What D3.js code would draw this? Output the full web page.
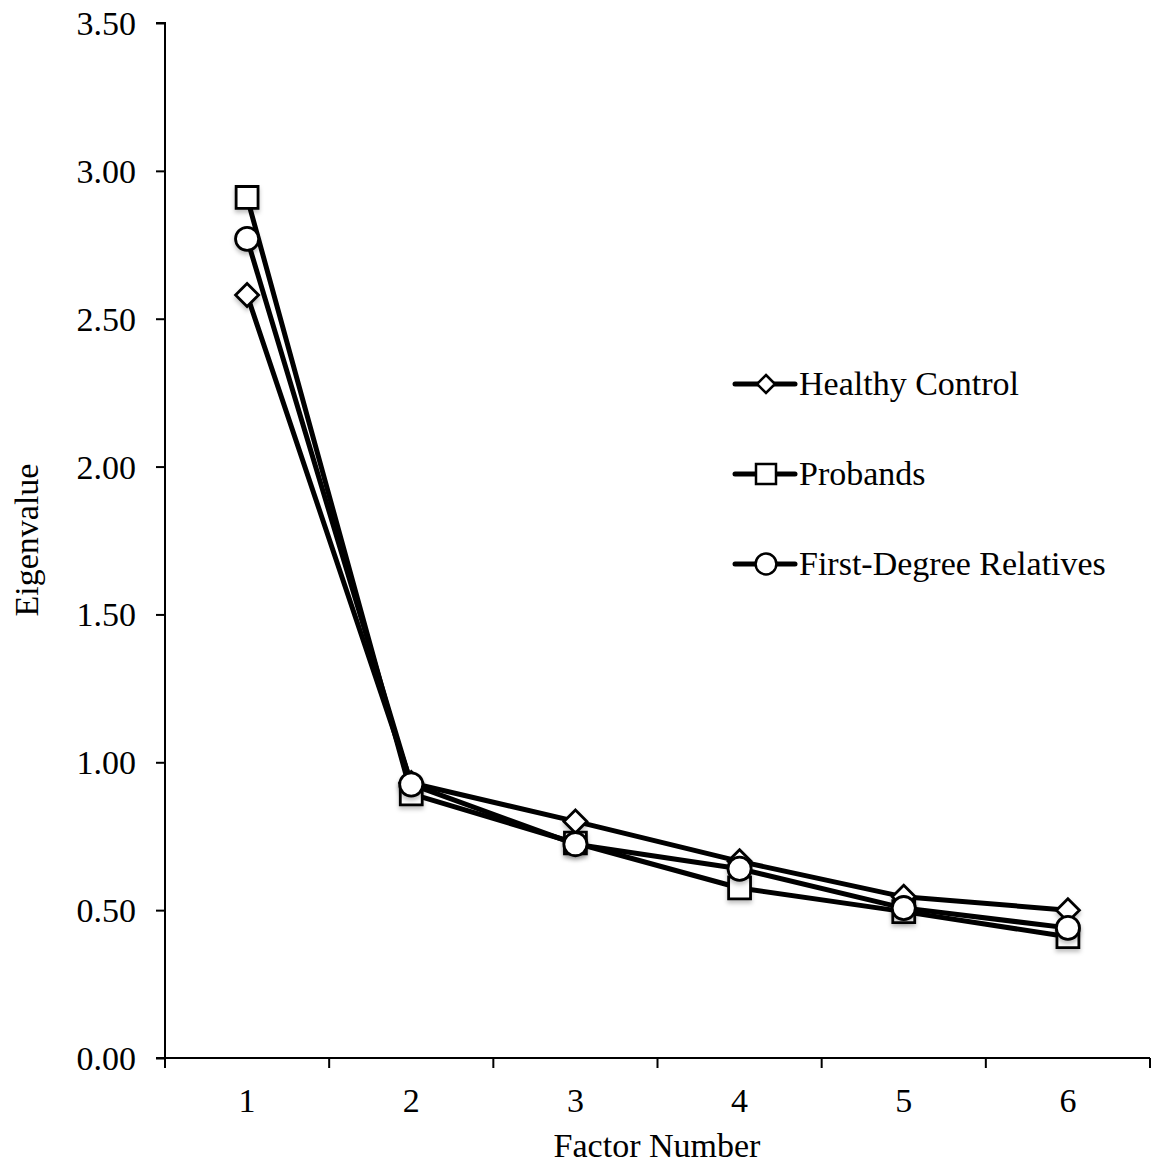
<!DOCTYPE html>
<html><head><meta charset="utf-8">
<script src="https://cdn.jsdelivr.net/npm/d3@7"></script>
<style>
body{margin:0;background:#fff;}
svg text{font-family:"Liberation Serif","Times New Roman",serif;fill:#000;}
</style></head>
<body><svg id="chart" width="1155" height="1164"></svg>
<script>
const factors = ["1","2","3","4","5","6"];
const healthyControl = [2.58, 0.93, 0.80, 0.665, 0.545, 0.50];
const probands = [2.91, 0.893, 0.727, 0.575, 0.495, 0.41];
const firstDegree = [2.77, 0.925, 0.723, 0.64, 0.507, 0.44];
const seriesNames = ["Healthy Control", "Probands", "First-Degree Relatives"];
const seriesSymbols = ["diamond", "square", "circle"];
const yTicks = [0, 0.5, 1, 1.5, 2, 2.5, 3, 3.5];

(function(){
const svg = d3.select("#chart");
const mLeft = 165, mRight = 1150, mTop = 23, mBottom = 1058;
const fs = "34px";

const defs = svg.append("defs");
const f = defs.append("filter").attr("id","sh").attr("x","-50%").attr("y","-50%").attr("width","200%").attr("height","200%");
f.append("feDropShadow").attr("dx",0).attr("dy",3).attr("stdDeviation",2).attr("flood-color","#000").attr("flood-opacity",0.25);

const y = d3.scaleLinear().domain([0, 3.5]).range([mBottom, mTop]);
const xb = d3.scaleBand().domain(factors).range([mLeft, mRight]);
const x = d => xb(d) + xb.bandwidth()/2;

// Y axis
const yAxis = d3.axisLeft(y).tickValues(yTicks).tickSize(9).tickPadding(20).tickFormat(d3.format(".2f"));
const gy = svg.append("g").attr("transform",`translate(${mLeft},0)`).call(yAxis);
gy.select(".domain").attr("stroke","#000").attr("stroke-width",2).attr("d",`M-9,${mTop}H0V${mBottom}`);
gy.selectAll(".tick line").attr("stroke","#000").attr("stroke-width",2);
gy.selectAll(".tick text").style("font-size",fs).attr("dy","0.34em");

// X axis
const gx = svg.append("g").attr("transform",`translate(0,${mBottom})`);
gx.append("line").attr("x1",mLeft-9).attr("x2",mRight).attr("y1",0).attr("y2",0).attr("stroke","#000").attr("stroke-width",2);
const bounds = factors.map(d => xb(d)).concat([xb(factors[factors.length-1]) + xb.bandwidth()]);
gx.selectAll(".tk").data(bounds).join("line").attr("x1",d=>d).attr("x2",d=>d).attr("y1",0).attr("y2",10).attr("stroke","#000").attr("stroke-width",2);
gx.selectAll(".lbl").data(factors).join("text").attr("x",d=>x(d)).attr("y",54).attr("text-anchor","middle").style("font-size",fs).text(d=>d);

// Axis titles
svg.append("text").attr("x",657).attr("y",1157).attr("text-anchor","middle").style("font-size",fs).text("Factor Number");
svg.append("text").attr("transform","translate(38,540) rotate(-90)").attr("text-anchor","middle").style("font-size",fs).text("Eigenvalue");

const symSize = {square: 480, circle: 420};
const symType = {square: d3.symbolSquare, circle: d3.symbolCircle};
function sym(name, r){
  if(name === "diamond"){
    return `M0,${-r}L${r},0L0,${r}L${-r},0Z`;
  }
  return d3.symbol().type(symType[name]).size(symSize[name])();
}

const allSeries = [healthyControl, probands, firstDegree];
const line = d3.line().x((d,i)=>x(factors[i])).y(d=>y(d));
allSeries.forEach((vals, si) => {
  const g = svg.append("g");
  g.append("path").attr("d", line(vals)).attr("fill","none").attr("stroke","#000").attr("stroke-width",5).attr("stroke-linejoin","round");
  g.selectAll("path.m").data(vals).join("path").attr("class","m")
    .attr("d", sym(seriesSymbols[si], 11.5))
    .attr("transform",(d,i)=>`translate(${x(factors[i])},${y(d)})`)
    .attr("fill","#fff").attr("stroke","#000").attr("stroke-width",2.8).attr("filter","url(#sh)");
});

// Legend
const legY = [384, 474, 564];
seriesNames.forEach((name, i) => {
  const g = svg.append("g").attr("transform",`translate(0,${legY[i]})`);
  g.append("line").attr("x1",735).attr("x2",795).attr("y1",0).attr("y2",0).attr("stroke","#000").attr("stroke-width",5).attr("stroke-linecap","round");
  let s = seriesSymbols[i];
  let d = s === "diamond" ? sym("diamond", 9) : d3.symbol().type(symType[s]).size(s==="square"?400:340)();
  g.append("path").attr("d", d).attr("transform","translate(766,0)").attr("fill","#fff").attr("stroke","#000").attr("stroke-width",2.5);
  g.append("text").attr("x",799).attr("y",11).style("font-size",fs).text(name);
});
})();
</script></body></html>
